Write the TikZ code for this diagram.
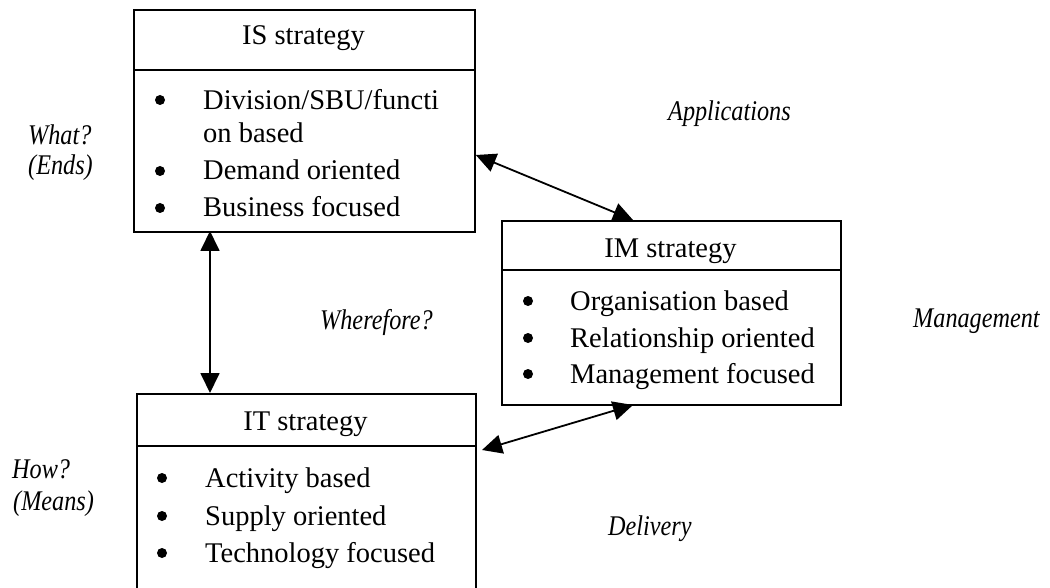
\documentclass[tikz,border=0pt]{standalone}
\usepackage{fontspec}
\setmainfont{Liberation Serif}
\usetikzlibrary{arrows.meta}
\newcommand\narrowtext[1]{\scalebox{0.85}[1]{#1}}
\begin{document}
\begin{tikzpicture}[x=1pt,y=-1pt,
  box/.style={draw,line width=1.8pt,inner sep=0pt},
  sep/.style={line width=1.8pt},
  conn/.style={line width=1.8pt,{Triangle[length=20pt,width=19pt]}-{Triangle[length=20pt,width=19pt]}},
  txt/.style={anchor=base west,inner sep=0pt,font=\fontsize{28.5}{34}\selectfont},
  hdr/.style={anchor=base,inner sep=0pt,font=\fontsize{28.5}{34}\selectfont},
  lbl/.style={anchor=base west,inner sep=0pt,font=\fontsize{28.5}{34}\selectfont\itshape},
  bul/.style={circle,fill,inner sep=0pt,minimum size=10pt}]
\useasboundingbox (0,0) rectangle (1050,588);
\begin{scope}
\clip (0,0) rectangle (1050,588);
% IS box
\node[box,minimum width=341pt,minimum height=222pt,anchor=north west] (is) at (133,9) {};
\draw[sep] (133,70) -- (474,70);
\node[hdr] (ish) at (303.5,45) {IS strategy};
\node[bul] (isb1) at (160,100) {};
\node[txt] (is1) at (203,110) {Division/SBU/functi};
\node[txt] (is1b) at (203,143) {on based};
\node[bul] (isb2) at (160,171) {};
\node[txt] (is2) at (203,180) {Demand oriented};
\node[bul] (isb3) at (160,208) {};
\node[txt] (is3) at (203,217) {Business focused};
% IM box
\node[box,minimum width=339pt,minimum height=184pt,anchor=north west] (im) at (501,220) {};
\draw[sep] (501,270) -- (840,270);
\node[hdr] (imh) at (670.5,258) {IM strategy};
\node[bul] (imb1) at (528,301) {};
\node[txt] (im1) at (570,310) {Organisation based};
\node[bul] (imb2) at (528,338) {};
\node[txt] (im2) at (570,347) {Relationship oriented};
\node[bul] (imb3) at (528,374) {};
\node[txt] (im3) at (570,383) {Management focused};
% IT box
\node[box,minimum width=339pt,minimum height=240pt,anchor=north west] (it) at (136,393) {};
\draw[sep] (136,446) -- (475,446);
\node[hdr] (ith) at (305.5,430) {IT strategy};
\node[bul] (itb1) at (162,478) {};
\node[txt] (it1) at (205,487) {Activity based};
\node[bul] (itb2) at (162,516) {};
\node[txt] (it2) at (205,525) {Supply oriented};
\node[bul] (itb3) at (162,553) {};
\node[txt] (it3) at (205,562) {Technology focused};
\end{scope}
% connection points
\coordinate (isR) at (is.north east |- 0,155);
\coordinate (imT) at (633,220);
\coordinate (isB) at (210,231);
\coordinate (itT) at (210,393);
\coordinate (itR) at (482,450);
\coordinate (imB) at (633,405);
\draw[conn] (isR) -- (imT);
\draw[conn] (isB) -- (itT);
\draw[conn] (itR) -- (imB);
% labels
\node[lbl] (what) at (28,145) {\narrowtext{What?}};
\node[lbl] (ends) at (28,175) {\narrowtext{(Ends)}};
\node[lbl] (how) at (12,478) {\narrowtext{How?}};
\node[lbl] (means) at (13,510) {\narrowtext{(Means)}};
\node[lbl] (app) at (668,121) {\narrowtext{Applications}};
\node[lbl] (wf) at (320,330) {\narrowtext{Wherefore?}};
\node[lbl] (mg) at (913,327) {\narrowtext{Management}};
\node[lbl] (del) at (608,535) {\narrowtext{Delivery}};
\end{tikzpicture}
\end{document}
